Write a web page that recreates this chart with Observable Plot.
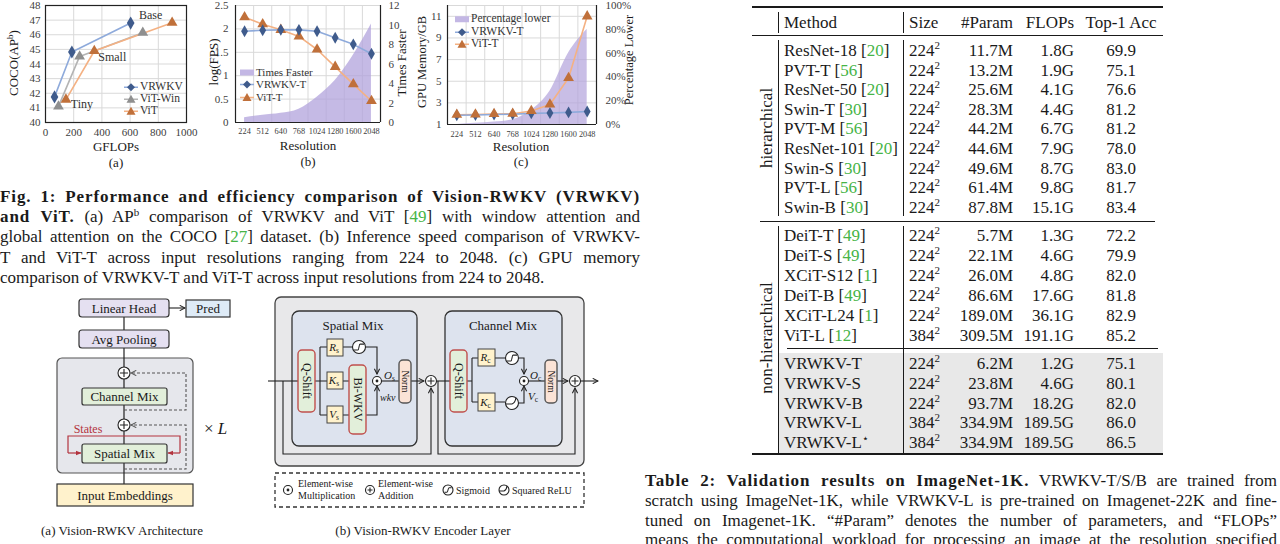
<!DOCTYPE html>
<html><head><meta charset="utf-8">
<script src="https://cdn.jsdelivr.net/npm/d3@7"></script>
<script src="https://cdn.jsdelivr.net/npm/@observablehq/plot@0.6"></script>
<style>
html,body{margin:0;padding:0;background:#fff}
body{position:relative;width:1280px;height:544px;overflow:hidden;font-family:"Liberation Serif","Times New Roman",serif;color:#1a1a1a}
.abs{position:absolute}
.ct{position:absolute;white-space:nowrap;line-height:1}
.jl{position:absolute;text-align:justify;text-align-last:justify;line-height:20px;height:20px;font-size:17px;overflow:visible}
.ll{position:absolute;line-height:20px;height:20px;font-size:17px;white-space:nowrap}
.jl b{letter-spacing:0.9px}
.sup{font-size:11px;position:relative;top:-6px;line-height:0}
.cite{color:#46b446}
.cell{position:absolute;white-space:nowrap;line-height:1;font-size:17px;transform:translateY(-50%)}
.rule{position:absolute;background:#1a1a1a}
.lg{position:absolute;white-space:nowrap;line-height:1;display:flex;align-items:center;color:#333}
.lg svg{margin-right:2px}
</style></head><body>
<script>
// ---------------- data: chart (a) ----------------
const sizes = ["Tiny", "Small", "Base"];
const vrwkvGflops = [64, 187, 604];
const vrwkvAp = [41.75, 44.82, 46.8];
const vitWinGflops = [92, 242, 690];
const vitWinAp = [41.1, 44.52, 46.14];
const vitGflops = [145, 346, 898];
const vitAp = [41.57, 44.89, 46.82];
const gflopTicks = [0, 200, 400, 600, 800, 1000];
const apTicks = [40, 41, 42, 43, 44, 45, 46, 47, 48];

// ---------------- data: chart (b) ----------------
const resolutions = ["224", "512", "640", "768", "1024", "1280", "1600", "2048"];
const vrwkvLogFps = [1.95, 1.97, 1.98, 1.98, 1.95, 1.81, 1.67, 1.47];
const vitLogFps = [2.25, 2.10, 1.98, 1.84, 1.56, 1.19, 0.82, 0.46];
const timesFaster = [0.5, 0.75, 0.95, 1.37, 2.6, 4.3, 6.9, 10.1];
const fpsTicks = [0, 0.5, 1, 1.5, 2, 2.5];
const fasterTicks = [0, 2, 4, 6, 8, 10, 12];

// ---------------- data: chart (c) ----------------
const vrwkvMemory = [1.85, 1.88, 1.92, 1.95, 2.03, 2.06, 2.12, 2.2];
const vitMemory = [1.9, 1.93, 1.97, 2.0, 2.25, 2.85, 5.3, 11.0];
const percentLower = [0, 1, 2, 4, 12, 28, 60, 80];
const memoryTicks = [1, 3, 5, 7, 9, 11];
const percentTicks = [0, 20, 40, 60, 80, 100];

// ---------------- data: table ----------------
const methods = ["ResNet-18","PVT-T","ResNet-50","Swin-T","PVT-M","ResNet-101","Swin-S","PVT-L","Swin-B",
  "DeiT-T","DeiT-S","XCiT-S12","DeiT-B","XCiT-L24","ViT-L",
  "VRWKV-T","VRWKV-S","VRWKV-B","VRWKV-L","VRWKV-L"];
const methodMarks = ["","","","","","","","","","","","","","","","","","","","⋆"];
const methodRefs = ["20","56","20","30","56","20","30","56","30","49","49","1","49","1","12","","","","",""];
const inputSizes = ["224","224","224","224","224","224","224","224","224","224","224","224","224","224","384","224","224","224","384","384"];
const params = ["11.7M","13.2M","25.6M","28.3M","44.2M","44.6M","49.6M","61.4M","87.8M","5.7M","22.1M","26.0M","86.6M","189.0M","309.5M","6.2M","23.8M","93.7M","334.9M","334.9M"];
const flops = ["1.8G","1.9G","4.1G","4.4G","6.7G","7.9G","8.7G","9.8G","15.1G","1.3G","4.6G","4.8G","17.6G","36.1G","191.1G","1.2G","4.6G","18.2G","189.5G","189.5G"];
const top1 = ["69.9","75.1","76.6","81.2","81.2","78.0","83.0","81.7","83.4","72.2","79.9","82.0","81.8","82.9","85.2","75.1","80.1","82.0","86.0","86.5"];
const groups = ["h","h","h","h","h","h","h","h","h","n","n","n","n","n","n","v","v","v","v","v"];
const header = ["Method", "Size", "#Param", "FLOPs", "Top-1 Acc"];

// ---------------- helpers ----------------
const FONT = "Liberation Serif, Times New Roman, serif";
function put(el, x, y) { el.style.position = "absolute"; el.style.left = x + "px"; el.style.top = y + "px"; document.body.appendChild(el); return el; }
function ctext(html, x, y, size, rot = 0, extra = "") {
  const d = document.createElement("div");
  d.className = "ct"; d.innerHTML = html;
  d.style.cssText += `left:${x}px;top:${y}px;font-size:${size}px;transform:translate(-50%,-50%) rotate(${rot}deg);${extra}`;
  document.body.appendChild(d);
}
const diamondPath = "M0,-4L4,0L0,4L-4,0Z";
const trianglePath = "M0,-4.5L4.5,3.5L-4.5,3.5Z";
function legendItem(x, y, size, text, kind, lineColor, markColor) {
  let sw;
  if (kind === "area") sw = `<svg width="14" height="8"><rect x="0" y="1" width="14" height="6" fill="#c3b7e4"/></svg>`;
  else sw = `<svg width="14" height="10"><line x1="0" y1="5" x2="14" y2="5" stroke="${lineColor}" stroke-width="1.5"/><path transform="translate(7,5)" d="${kind === "diamond" ? diamondPath : trianglePath}" fill="${markColor}"/></svg>`;
  const d = document.createElement("div");
  d.className = "lg"; d.innerHTML = sw + `<span>${text}</span>`;
  d.style.cssText += `left:${x}px;top:${y}px;font-size:${size}px;transform:translateY(-50%)`;
  document.body.appendChild(d);
}
const gridColor = "#d9d9d9";
const C = {
  vrLine: "#8eaadb", vrMark: "#3f5b8c",
  winLine: "#b4b4b4", winMark: "#8f8f8f",
  vitLine: "#f4b183", vitMark: "#c0703a",
  area: "#b2a3dc"
};
const baseStyle = {fontFamily: FONT, fontSize: "11px", color: "#404040", background: "transparent", overflow: "visible"};

// ---------------- chart (a) ----------------
const sizeIdx = sizes.map((s, i) => i);
const chartA = Plot.plot({
  width: 200, height: 170, marginLeft: 45, marginRight: 14, marginTop: 5, marginBottom: 48,
  style: baseStyle,
  x: {domain: [0, 1000]}, y: {domain: [40, 48]},
  marks: [
    Plot.gridX({ticks: gflopTicks, stroke: gridColor, strokeOpacity: 1}),
    Plot.gridY({ticks: apTicks, stroke: gridColor, strokeOpacity: 1}),
    Plot.line(sizeIdx, {x: i => vitWinGflops[i], y: i => vitWinAp[i], stroke: C.winLine, strokeWidth: 1.6}),
    Plot.line(sizeIdx, {x: i => vitGflops[i], y: i => vitAp[i], stroke: C.vitLine, strokeWidth: 1.6}),
    Plot.line(sizeIdx, {x: i => vrwkvGflops[i], y: i => vrwkvAp[i], stroke: C.vrLine, strokeWidth: 1.6}),
    Plot.dot(sizeIdx, {x: i => vitWinGflops[i], y: i => vitWinAp[i], symbol: "triangle", r: 4, fill: C.winMark}),
    Plot.dot(sizeIdx, {x: i => vitGflops[i], y: i => vitAp[i], symbol: "triangle", r: 4, fill: C.vitMark}),
    Plot.dot(sizeIdx, {x: i => vrwkvGflops[i], y: i => vrwkvAp[i], symbol: "diamond", r: 4, fill: C.vrMark}),
    Plot.text([2], {x: i => vrwkvGflops[i], y: i => vrwkvAp[i], text: i => sizes[i], dx: 20, dy: -8, fontSize: 12, fill: "#333"}),
    Plot.text([1], {x: i => vitGflops[i], y: i => vitAp[i], text: i => sizes[i], dx: 18, dy: 6, fontSize: 12, fill: "#333"}),
    Plot.text([0], {x: i => vitGflops[i], y: i => vitAp[i], text: i => sizes[i], dx: 16, dy: 5, fontSize: 12, fill: "#333"}),
    Plot.axisX({ticks: gflopTicks, tickFormat: d => String(d), tickSize: 0, tickPadding: 6, label: null}),
    Plot.axisY({ticks: apTicks, tickFormat: d => String(d), tickSize: 0, tickPadding: 5, label: null}),
    Plot.frame({stroke: "#222", strokeWidth: 1.2})
  ]
});
put(chartA, 0, 0);
ctext("COCO(AP<span style='font-size:9px;position:relative;top:-5px'>b</span>)", 13, 63, 13, -90);
ctext("GFLOPs", 116, 146, 13);
ctext("(a)", 116, 162, 13);
legendItem(124, 87, 11.5, "VRWKV", "diamond", C.vrLine, C.vrMark);
legendItem(124, 99, 11.5, "ViT-Win", "triangle", C.winLine, C.winMark);
legendItem(124, 111, 11.5, "ViT", "triangle", C.vitLine, C.vitMark);

// ---------------- chart (b) ----------------
const resIdx = resolutions.map((r, i) => i);
const fasterToFps = 2.5 / 12;
const chartB = Plot.plot({
  width: 220, height: 170, marginLeft: 35, marginRight: 40, marginTop: 5, marginBottom: 48,
  style: baseStyle,
  x: {domain: [-0.5, resolutions.length - 0.5]}, y: {domain: [0, 2.5]},
  marks: [
    Plot.gridX({ticks: resIdx.slice(1).map(i => i - 0.5), stroke: gridColor, strokeOpacity: 1}),
    Plot.gridY({ticks: fpsTicks, stroke: gridColor, strokeOpacity: 1}),
    Plot.areaY(resIdx, {x: i => i, y: i => timesFaster[i] * fasterToFps, fill: C.area, fillOpacity: 0.75, curve: "monotone-x"}),
    Plot.line(resIdx, {x: i => i, y: i => vitLogFps[i], stroke: C.vitLine, strokeWidth: 1.6}),
    Plot.line(resIdx, {x: i => i, y: i => vrwkvLogFps[i], stroke: C.vrLine, strokeWidth: 1.6}),
    Plot.dot(resIdx, {x: i => i, y: i => vitLogFps[i], symbol: "triangle", r: 4, fill: C.vitMark}),
    Plot.dot(resIdx, {x: i => i, y: i => vrwkvLogFps[i], symbol: "diamond", r: 3.6, fill: C.vrMark}),
    Plot.axisX({ticks: resIdx, tickFormat: i => resolutions[i], tickSize: 0, tickPadding: 6, fontSize: 8.3, label: null}),
    Plot.axisY({ticks: fpsTicks, tickFormat: d => String(d), tickSize: 0, tickPadding: 7, label: null}),
    Plot.axisY({anchor: "right", ticks: fasterTicks.map(v => v * fasterToFps), tickFormat: v => String(Math.round(v / fasterToFps)), tickSize: 0, tickPadding: 8, label: null}),
    Plot.ruleX([-0.5, resolutions.length - 0.5], {stroke: "#222", strokeWidth: 1.2}),
    Plot.ruleY([0], {stroke: "#222", strokeWidth: 1.2})
  ]
});
put(chartB, 200, 0);
ctext("log(FPS)", 213, 62, 13, -90);
ctext("Times Faster", 401, 63, 13, -90);
ctext("Resolution", 308, 145, 13);
ctext("(b)", 308, 161, 13);
legendItem(240, 72, 11, "Times Faster", "area");
legendItem(240, 84, 11, "VRWKV-T", "diamond", C.vrLine, C.vrMark);
legendItem(240, 97, 11, "ViT-T", "triangle", C.vitLine, C.vitMark);

// ---------------- chart (c) ----------------
const pctToMem = p => 1 + p / 100 * 11;
const chartC = Plot.plot({
  width: 225, height: 170, marginLeft: 32, marginRight: 44, marginTop: 5, marginBottom: 46,
  style: baseStyle,
  x: {domain: [-0.5, resolutions.length - 0.5]}, y: {domain: [1, 12]},
  marks: [
    Plot.gridX({ticks: resIdx.slice(1).map(i => i - 0.5), stroke: gridColor, strokeOpacity: 1}),
    Plot.gridY({ticks: memoryTicks.concat([12]), stroke: gridColor, strokeOpacity: 1}),
    Plot.areaY(resIdx, {x: i => i, y1: i => 1, y2: i => pctToMem(percentLower[i]), fill: C.area, fillOpacity: 0.7, curve: "monotone-x"}),
    Plot.line(resIdx, {x: i => i, y: i => vitMemory[i], stroke: C.vitLine, strokeWidth: 1.6}),
    Plot.line(resIdx, {x: i => i, y: i => vrwkvMemory[i], stroke: C.vrLine, strokeWidth: 1.6}),
    Plot.dot(resIdx, {x: i => i, y: i => vrwkvMemory[i], symbol: "diamond", r: 3.6, fill: C.vrMark}),
    Plot.dot(resIdx, {x: i => i, y: i => vitMemory[i], symbol: "triangle", r: 4, fill: C.vitMark}),
    Plot.axisX({ticks: resIdx, tickFormat: i => resolutions[i], tickSize: 0, tickPadding: 7, fontSize: 8.3, label: null}),
    Plot.axisY({ticks: memoryTicks, tickFormat: d => String(d), tickSize: 0, tickPadding: 6, label: null}),
    Plot.axisY({anchor: "right", ticks: percentTicks.map(pctToMem), tickFormat: v => Math.round((v - 1) / 11 * 100) + "%", tickSize: 0, tickPadding: 9, label: null}),
    Plot.ruleX([-0.5, resolutions.length - 0.5], {stroke: "#222", strokeWidth: 1.2}),
    Plot.ruleY([1], {stroke: "#222", strokeWidth: 1.2})
  ]
});
put(chartC, 415, 0);
ctext("GPU Memory/GB", 422, 62, 12.5, -90);
ctext("Percentage Lower", 629, 60, 12.5, -90);
ctext("Resolution", 521, 146, 13);
ctext("(c)", 521, 161, 13);
legendItem(455, 19, 11.5, "Percentage lower", "area");
legendItem(455, 32, 11.5, "VRWKV-T", "diamond", C.vrLine, C.vrMark);
legendItem(455, 44, 11.5, "ViT-T", "triangle", C.vitLine, C.vitMark);

// ---------------- Figure 1 caption ----------------
const figLines = [
  `<b>Fig. 1: Performance and efficiency comparison of Vision-RWKV (VRWKV)</b>`,
  `<b>and ViT.</b> (a) AP<span class="sup">b</span> comparison of VRWKV and ViT [<span class="cite">49</span>] with window attention and`,
  `global attention on the COCO [<span class="cite">27</span>] dataset. (b) Inference speed comparison of VRWKV-`,
  `T and ViT-T across input resolutions ranging from 224 to 2048. (c) GPU memory`
];
figLines.forEach((t, i) => { const d = document.createElement("div"); d.className = "jl"; d.style.width = "640px"; d.innerHTML = t; put(d, 0, 187 + i * 20.2); });
{ const d = document.createElement("div"); d.className = "ll"; d.innerHTML = "comparison of VRWKV-T and ViT-T across input resolutions from 224 to 2048."; put(d, 0, 187 + 4 * 20.2); }

// ---------------- Table 2 caption ----------------
const tabLines = [
  `<b>Table 2: Validation results on ImageNet-1K.</b> VRWKV-T/S/B are trained from`,
  `scratch using ImageNet-1K, while VRWKV-L is pre-trained on Imagenet-22K and fine-`,
  `tuned on Imagenet-1K. “#Param” denotes the number of parameters, and “FLOPs”`,
  `means the computational workload for processing an image at the resolution specified`
];
tabLines.forEach((t, i) => { const d = document.createElement("div"); d.className = "jl"; d.style.width = "632px"; d.innerHTML = t; put(d, 645, 471 + i * 19.8); });

// ---------------- Table 2 ----------------
function rule(x, y, w, h, color) { const d = document.createElement("div"); d.className = "rule"; d.style.cssText += `width:${w}px;height:${h}px;` + (color ? `background:${color};` : ""); put(d, x, y); }
rule(778, 353, 385, 100, "#e8e8e8");       // shaded VRWKV rows
rule(752, 6, 411, 1.6);                    // top rule
rule(752, 35, 411, 1);                     // header rule
rule(760, 221, 395, 1);                    // group rule
rule(787, 348, 371, 1);                    // ours rule
rule(752, 453, 411, 2);                    // bottom rule
rule(778, 12, 1, 21); rule(903, 12, 1, 21);
rule(778, 40, 1, 176); rule(903, 40, 1, 176);
rule(778, 226, 1, 227); rule(903, 226, 1, 227);
function cell(html, x, y, align) {
  const d = document.createElement("div"); d.className = "cell"; d.innerHTML = html;
  if (align === "right") { d.style.right = (1280 - x) + "px"; d.style.top = y + "px"; d.style.position = "absolute"; document.body.appendChild(d); }
  else if (align === "center") { d.style.transform = "translate(-50%,-50%)"; put(d, x, y); }
  else put(d, x, y);
}
const colX = {method: 784, size: 909, param: 1013, flops: 1074, acc: 1121};
cell(header[0], colX.method, 22); cell(header[1], colX.size, 22);
cell(header[2], colX.param, 22, "right"); cell(header[3], colX.flops, 22, "right"); cell(header[4], colX.acc, 22, "center");
const rowY = i => groups[i] === "h" ? 50 + 19.6 * i : groups[i] === "n" ? 235 + 20 * (i - 9) : 363 + 19.75 * (i - 15);
methods.forEach((m, i) => {
  const y = rowY(i);
  const ref = methodRefs[i] ? ` [<span class="cite">${methodRefs[i]}</span>]` : "";
  const mark = methodMarks[i] ? `<span style="font-size:11px;position:relative;top:-6px">${methodMarks[i]}</span>` : "";
  cell(m + mark + ref, colX.method, y);
  cell(`${inputSizes[i]}<span style="font-size:11px;position:relative;top:-7px">2</span>`, colX.size, y);
  cell(params[i], colX.param, y, "right");
  cell(flops[i], colX.flops, y, "right");
  cell(top1[i], colX.acc, y, "center");
});
ctext("hierarchical", 766, 128, 17, -90);
ctext("non-hierarchical", 766, 338, 17, -90);

// ---------------- Diagrams (illustrations) ----------------
const S = "#222";
function plus(cx, cy, r) { return `<circle cx="${cx}" cy="${cy}" r="${r}" fill="#fff" stroke="${S}" stroke-width="1.1"/><path d="M${cx - r + 2},${cy}H${cx + r - 2}M${cx},${cy - r + 2}V${cy + r - 2}" stroke="${S}" stroke-width="1.1"/>`; }
function times(cx, cy, r) { return `<circle cx="${cx}" cy="${cy}" r="${r}" fill="#fff" stroke="${S}" stroke-width="1.1"/><circle cx="${cx}" cy="${cy}" r="1.4" fill="${S}"/>`; }
function sigm(cx, cy, r) { return `<circle cx="${cx}" cy="${cy}" r="${r}" fill="#fff" stroke="${S}" stroke-width="1.1"/><path d="M${cx - r + 1.5},${cy + r * 0.45}H${cx - 1}C${cx},${cy + r * 0.45} ${cx},${cy - r * 0.45} ${cx + 1},${cy - r * 0.45}H${cx + r - 1.5}" fill="none" stroke="${S}" stroke-width="1.1"/>`; }
function srelu(cx, cy, r) { return `<circle cx="${cx}" cy="${cy}" r="${r}" fill="#fff" stroke="${S}" stroke-width="1.1"/><path d="M${cx - r},${cy + 1}H${cx}Q${cx + r * 0.5},${cy} ${cx + r * 0.6},${cy - r * 0.8}" fill="none" stroke="${S}" stroke-width="1.1"/>`; }
function vbox(x, y, w, h, txt, fill, stroke, fs) { return `<rect x="${x}" y="${y}" width="${w}" height="${h}" rx="4" fill="${fill}" stroke="${stroke}" stroke-width="1.4"/><text transform="translate(${x + w / 2},${y + h / 2}) rotate(90)" text-anchor="middle" dominant-baseline="central" font-size="${fs}">${txt}</text>`; }
function kbox(x, y, w, h, letter, sub) { return `<rect x="${x}" y="${y}" width="${w}" height="${h}" fill="#fff2cc" stroke="#444" stroke-width="1"/><text x="${x + w / 2 - 1}" y="${y + h / 2 + 3.5}" text-anchor="middle" font-size="11"><tspan font-style="italic">${letter}</tspan><tspan font-size="7.5" dy="2">${sub}</tspan></text>`; }
function seg(d, extra = "") { return `<path d="${d}" fill="none" stroke="${S}" stroke-width="1.1" ${extra}/>`; }

const diag = `
<svg class="abs" style="left:0;top:290px" width="640" height="254" viewBox="0 290 640 254" font-family="${FONT}" fill="#1a1a1a">
<defs>
 <marker id="ak" viewBox="0 0 10 10" refX="9" refY="5" markerWidth="6" markerHeight="6" orient="auto"><path d="M1,1L9,5L1,9" fill="none" stroke="#222" stroke-width="1.6"/></marker>
 <marker id="ag" viewBox="0 0 10 10" refX="9" refY="5" markerWidth="6" markerHeight="6" orient="auto"><path d="M1,1L9,5L1,9" fill="none" stroke="#555" stroke-width="1.6"/></marker>
 <marker id="ar" viewBox="0 0 10 10" refX="9" refY="5" markerWidth="5" markerHeight="5" orient="auto"><path d="M0,1L10,5L0,9Z" fill="#b3343f"/></marker>
</defs>
<!-- (a) architecture -->
<rect x="57" y="358" width="136" height="115" rx="5" fill="#e6e7ec" stroke="#555" stroke-width="1.2"/>
<line x1="124" y1="317" x2="124" y2="484" stroke="${S}" stroke-width="1.2"/>
<path d="M124,410H186V373H131" fill="none" stroke="#555" stroke-width="1.1" stroke-dasharray="3,2" marker-end="url(#ag)"/>
<path d="M124,469H186V425H131" fill="none" stroke="#555" stroke-width="1.1" stroke-dasharray="3,2" marker-end="url(#ag)"/>
<path d="M68,453V436H180V453" fill="none" stroke="#b3343f" stroke-width="1.2"/>
<path d="M68,453H81" fill="none" stroke="#b3343f" stroke-width="1.2" marker-end="url(#ar)"/>
<path d="M180,453H168" fill="none" stroke="#b3343f" stroke-width="1.2" marker-end="url(#ar)"/>
<rect x="79" y="299" width="90" height="18" rx="3" fill="#e5e0f1" stroke="#333" stroke-width="1.2"/>
<text x="124" y="312.5" text-anchor="middle" font-size="13">Linear Head</text>
<path d="M169,308H185" stroke="${S}" stroke-width="1.1" marker-end="url(#ak)"/>
<rect x="186" y="300" width="44" height="17" fill="#deebf7" stroke="#333" stroke-width="1.2"/>
<text x="208" y="313" text-anchor="middle" font-size="13">Pred</text>
<rect x="79" y="330" width="90" height="18" rx="3" fill="#e5e0f1" stroke="#333" stroke-width="1.2"/>
<text x="124" y="343.5" text-anchor="middle" font-size="13">Avg Pooling</text>
${plus(124, 373, 6)}
<rect x="82" y="388" width="85" height="17" rx="2" fill="#e2efda" stroke="#333" stroke-width="1.2"/>
<text x="124.5" y="400.5" text-anchor="middle" font-size="13">Channel Mix</text>
${plus(124, 425, 6)}
<text x="88" y="433" text-anchor="middle" font-size="12" fill="#b3343f">States</text>
<rect x="82" y="444" width="85" height="19" rx="2" fill="#e2efda" stroke="#333" stroke-width="1.2"/>
<text x="124.5" y="458" text-anchor="middle" font-size="13">Spatial Mix</text>
<rect x="57" y="484" width="136" height="22" fill="#fff2cc" stroke="#333" stroke-width="1.2"/>
<text x="125" y="499.5" text-anchor="middle" font-size="13">Input Embeddings</text>
<text x="204" y="434" font-size="17">× <tspan font-style="italic">L</tspan></text>
<text x="122" y="535" text-anchor="middle" font-size="13">(a) Vision-RWKV Architecture</text>

<!-- (b) encoder layer -->
<rect x="275" y="297" width="309" height="169" rx="6" fill="#e8e8ea" stroke="#444" stroke-width="1.3"/>
<rect x="292" y="311" width="125" height="135" rx="7" fill="#dde3ee" stroke="#333" stroke-width="1.3"/>
<rect x="445" y="311" width="117" height="135" rx="7" fill="#dde3ee" stroke="#333" stroke-width="1.3"/>
<text x="353" y="330" text-anchor="middle" font-size="13">Spatial Mix</text>
<text x="503" y="330" text-anchor="middle" font-size="13">Channel Mix</text>
${seg("M268,381H298")}
${seg("M315,381H349")}
${seg("M320,347V415M320,347H327M343,347H352M320,415H327M343,415H349")}
${seg("M366,347H377V374", 'marker-end="url(#ak)"')}
${seg("M366,415H377V386", 'marker-end="url(#ak)"')}
${seg("M382,381H399")}
${seg("M411,381H424", 'marker-end="url(#ak)"')}
${seg("M437,381H450")}
${seg("M283,381V454H431V388", 'marker-end="url(#ak)"')}
${seg("M438,381V454H575V388", 'marker-end="url(#ak)"')}
${seg("M467,381H472M472,358V402M472,358H478M495,358H505M472,402H478M495,402H505")}
${seg("M519,358H524V374", 'marker-end="url(#ak)"')}
${seg("M519,403H524V386", 'marker-end="url(#ak)"')}
${seg("M529,381H545")}
${seg("M556,381H568", 'marker-end="url(#ak)"')}
${seg("M581,381H598", 'marker-end="url(#ak)"')}
${vbox(298, 350, 17, 62, "Q-Shift", "#e2efda", "#c0504d", 12)}
${vbox(349, 365, 17, 69, "Bi-WKV", "#e2efda", "#c0504d", 12)}
${vbox(450, 350, 17, 62, "Q-Shift", "#e2efda", "#c0504d", 12)}
${vbox(399, 360, 12, 43, "Norm", "#fbe3d6", "#555", 9.5)}
${vbox(545, 360, 12, 43, "Norm", "#fbe3d6", "#555", 9.5)}
${kbox(327, 339, 16, 17, "R", "s")}
${kbox(327, 372, 16, 17, "K", "s")}
${kbox(327, 406, 16, 17, "V", "s")}
${kbox(478, 349, 17, 17, "R", "c")}
${kbox(478, 393, 17, 18, "K", "c")}
${sigm(359, 347, 6.5)}
${sigm(512, 358, 6.5)}
${srelu(512, 403, 6.5)}
${times(377, 381, 4.5)}
${times(524, 381, 4.5)}
${plus(431, 381, 5.5)}
${plus(575, 381, 5.5)}
<text x="384" y="379" font-size="11"><tspan font-style="italic">O</tspan><tspan font-size="7.5" dy="2">s</tspan></text>
<text x="380" y="401" font-size="10" font-style="italic">wkv</text>
<text x="530" y="379" font-size="11"><tspan font-style="italic">O</tspan><tspan font-size="7.5" dy="2">c</tspan></text>
<text x="528" y="400" font-size="11"><tspan font-style="italic">V</tspan><tspan font-size="7.5" dy="2">c</tspan></text>
<rect x="275" y="473" width="309" height="34" fill="none" stroke="#333" stroke-width="1.3" stroke-dasharray="4,3"/>
${times(288, 490, 4.5)}
<text x="298" y="487" font-size="10">Element-wise</text>
<text x="298" y="499" font-size="10">Multiplication</text>
${plus(370, 490, 4.5)}
<text x="378" y="487" font-size="10">Element-wise</text>
<text x="378" y="499" font-size="10">Addition</text>
${sigm(448, 490, 5)}
<text x="456" y="493.5" font-size="10">Sigmoid</text>
${srelu(504, 490, 5)}
<text x="512" y="493.5" font-size="10">Squared ReLU</text>
<text x="423" y="535" text-anchor="middle" font-size="13">(b) Vision-RWKV Encoder Layer</text>
</svg>`;
document.body.insertAdjacentHTML("beforeend", diag);
</script>
</body></html>
